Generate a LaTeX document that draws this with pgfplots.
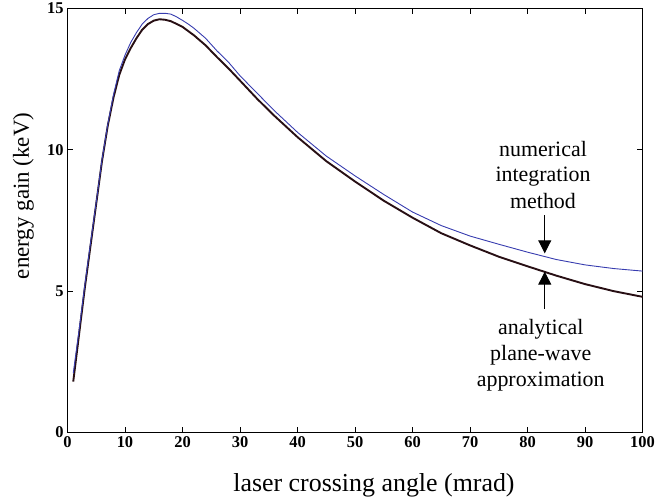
\documentclass[border=0pt]{standalone}
\usepackage{fontspec}
\setmainfont{Liberation Serif}
\usepackage{pgfplots}
\pgfplotsset{compat=1.18}
\usetikzlibrary{arrows.meta}
\definecolor{numblue}{RGB}{55,60,175}
\definecolor{anablack}{RGB}{40,15,20}
\newcommand{\tlfont}{\fontsize{16.5}{19}\selectfont\bfseries}
\begin{document}
\begin{tikzpicture}
\path[use as bounding box] (-67.5bp,-70.5bp) rectangle (588.5bp,432.5bp);
\begin{axis}[
  scale only axis,
  width=575bp, height=424bp,
  at={(0,0)}, anchor=south west,
  xmin=0, xmax=100, ymin=0, ymax=15,
  xtick={0,10,...,100}, ytick={0,5,10,15},
  xticklabels={\tlfont 0,\tlfont 10,\tlfont 20,\tlfont 30,\tlfont 40,\tlfont 50,\tlfont 60,\tlfont 70,\tlfont 80,\tlfont 90,\tlfont 100},
  yticklabels={\tlfont 0,\tlfont 5,\tlfont 10,\tlfont 15},
  tick align=inside,
  major tick length=6bp,
  axis line style={line width=1.2bp, black},
  every tick/.style={black, line width=0.9bp},
  xticklabel style={yshift=-0.5bp},
  yticklabel style={xshift=-0.5bp},
  clip=false,
]
\addplot[anablack, line width=1.9bp] coordinates {
(1,1.8) (2,3.45) (3,5.1) (4,6.6) (5,8.1) (6,9.6) (7,10.85) (8,11.85) (9,12.65) (10,13.2)
(11,13.6) (12,13.95) (13,14.25) (14,14.45) (15,14.57) (16,14.62) (17,14.6) (18,14.55)
(19,14.45) (20,14.35) (21,14.2) (22,14.05) (24,13.7) (26,13.28) (28,12.88) (30,12.45)
(33,11.8) (36,11.2) (40,10.45) (45,9.6) (50,8.88) (55,8.2) (60,7.6) (65,7.05) (70,6.62)
(75,6.22) (80,5.88) (85,5.55) (90,5.25) (95,5.0) (100,4.8)
};
\addplot[numblue, line width=0.9bp] coordinates {
(1,2.1) (2,3.6) (3,5.2) (4,6.7) (5,8.15) (6,9.65) (7,10.9) (8,11.95) (9,12.8) (10,13.35)
(11,13.8) (12,14.15) (13,14.45) (14,14.65) (15,14.78) (16,14.83) (17,14.83) (18,14.8)
(19,14.7) (20,14.58) (21,14.45) (22,14.3) (24,13.95) (26,13.5) (28,13.1) (30,12.62)
(33,12.0) (36,11.38) (40,10.62) (45,9.78) (50,9.08) (55,8.42) (60,7.8) (65,7.32) (70,6.95)
(75,6.66) (80,6.38) (85,6.12) (90,5.93) (95,5.8) (100,5.71)
};
% annotation arrows
\draw[line width=1bp, -{Triangle[length=13bp,width=13bp]}] (axis cs:83,7.69) -- (axis cs:83,6.34);
\draw[line width=1bp, -{Triangle[length=13bp,width=13bp]}] (axis cs:83,4.37) -- (axis cs:83,5.69);
% annotation text
\begin{scope}[every node/.style={anchor=base, inner sep=0pt, font=\fontsize{22}{26}\selectfont}]
\node at (axis cs:82.7,9.77) {numerical};
\node at (axis cs:82.7,8.87) {integration};
\node at (axis cs:82.7,7.93) {method};
\node at (axis cs:82.3,3.45) {analytical};
\node at (axis cs:82.3,2.55) {plane-wave};
\node at (axis cs:82.3,1.62) {approximation};
\end{scope}
% axis labels
\node[anchor=base, inner sep=0pt, font=\fontsize{26}{31}\selectfont] at ([yshift=-59.2bp]rel axis cs:0.533,0) {laser crossing angle (mrad)};
\node[rotate=90, anchor=center, inner sep=0pt, font=\fontsize{23}{28}\selectfont] at ([xshift=-44bp]rel axis cs:0,0.558) {energy gain (keV)};
\end{axis}
\end{tikzpicture}
\end{document}
